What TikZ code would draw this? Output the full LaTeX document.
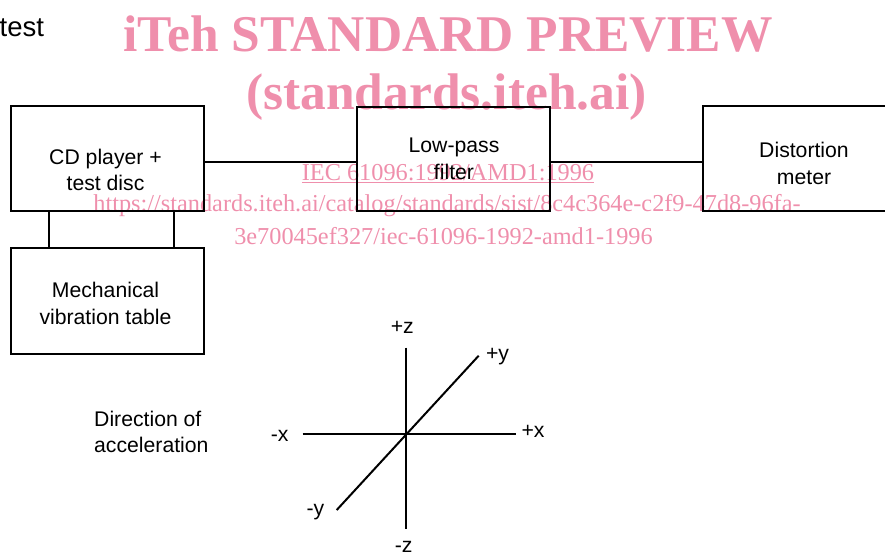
\documentclass[tikz,border=0pt]{standalone}
\usepackage{fontspec}
\setmainfont{Liberation Sans}
\newfontfamily\wmfont{Liberation Serif}
\definecolor{wmpink}{RGB}{239,143,172}
\begin{document}
\begin{tikzpicture}[x=1pt,y=-1pt,
  box/.style={draw, line width=1.4pt, inner sep=0pt},
  conn/.style={line width=1.4pt},
  txt/.style={font=\fontsize{21.2}{26.5}\selectfont, inner sep=0pt, align=center},
  axis/.style={line width=2pt},
  wmbig/.style={text=wmpink, inner sep=0pt, anchor=base, font=\wmfont\fontsize{51.5}{52}\selectfont\bfseries},
  wmsmall/.style={text=wmpink, inner sep=0pt, anchor=base, font=\wmfont\fontsize{24.3}{26}\selectfont}]
\useasboundingbox (0,0) rectangle (885,554);
% watermark
\node[wmbig] (wm1) at (448,51.5) {iTeh STANDARD PREVIEW};
\node[wmbig] (wm2) at (446.5,109.5) {(standards.iteh.ai)};
\node[wmsmall] (wm3) at (448,180.5) {\underline{IEC 61096:1992/AMD1:1996}};
\node[wmsmall] (wm4) at (447,211.5) {https://standards.iteh.ai/catalog/standards/sist/8c4c364e-c2f9-47d8-96fa-};
\node[wmsmall] (wm5) at (443.5,244) {3e70045ef327/iec-61096-1992-amd1-1996};
% title
\node[anchor=base west, inner sep=0pt, font=\fontsize{27.5}{30}\selectfont] (tst) at (-0.5,36.5) {test};
% boxes
\node[box, minimum width=193pt, minimum height=105pt] (cd) at (107.5,158.5) {};
\node[box, minimum width=193pt, minimum height=104pt] (lp) at (453.5,159) {};
\node[box, minimum width=202pt, minimum height=105pt] (dm) at (804,158.5) {};
\node[box, minimum width=193pt, minimum height=106pt] (mv) at (107.5,301) {};
\node[txt, anchor=base] (cdt) at (105.5,190.5) {CD player +\\test disc};
\node[txt, anchor=base] (lpt) at (454,179) {Low-pass\\filter};
\node[txt, anchor=base] (dmt) at (804,184) {Distortion\\meter};
\node[txt, anchor=base] (mvt) at (105.5,324) {Mechanical\\vibration table};
% connectors
\draw[conn] ([yshift=-3.5pt]cd.east) -- ([yshift=-3pt]lp.west);
\draw[conn] ([yshift=-3pt]lp.east) -- ([yshift=-3.5pt]dm.west);
\draw[conn] ([xshift=-58.5pt]cd.south) -- ([xshift=-58.5pt]mv.north);
\draw[conn] ([xshift=66.5pt]cd.south) -- ([xshift=66.5pt]mv.north);
% direction of acceleration
\node[txt, align=left, anchor=base west] (dir) at (94,452.5) {Direction of\\acceleration};
\coordinate (o) at (405.7,434);
\coordinate (zp) at (405.7,347.7);
\coordinate (zm) at (405.7,529);
\coordinate (xm) at (302.7,434);
\coordinate (xp) at (515.7,434);
\coordinate (ym) at (336.7,510);
\coordinate (yp) at (478.7,355.7);
\draw[axis] (zp) -- (zm);
\draw[axis] (xm) -- (xp);
\draw[axis] (ym) -- (yp);
\node[txt, anchor=base] (lzp) at (402.3,333) {+z};
\node[txt, anchor=base] (lyp) at (497.5,360) {+y};
\node[txt, anchor=base] (lxm) at (279.7,441) {-x};
\node[txt, anchor=base] (lxp) at (533,437) {+x};
\node[txt, anchor=base] (lym) at (315.5,515) {-y};
\node[txt, anchor=base] (lzm) at (403.7,552.5) {-z};
\end{tikzpicture}
\end{document}
